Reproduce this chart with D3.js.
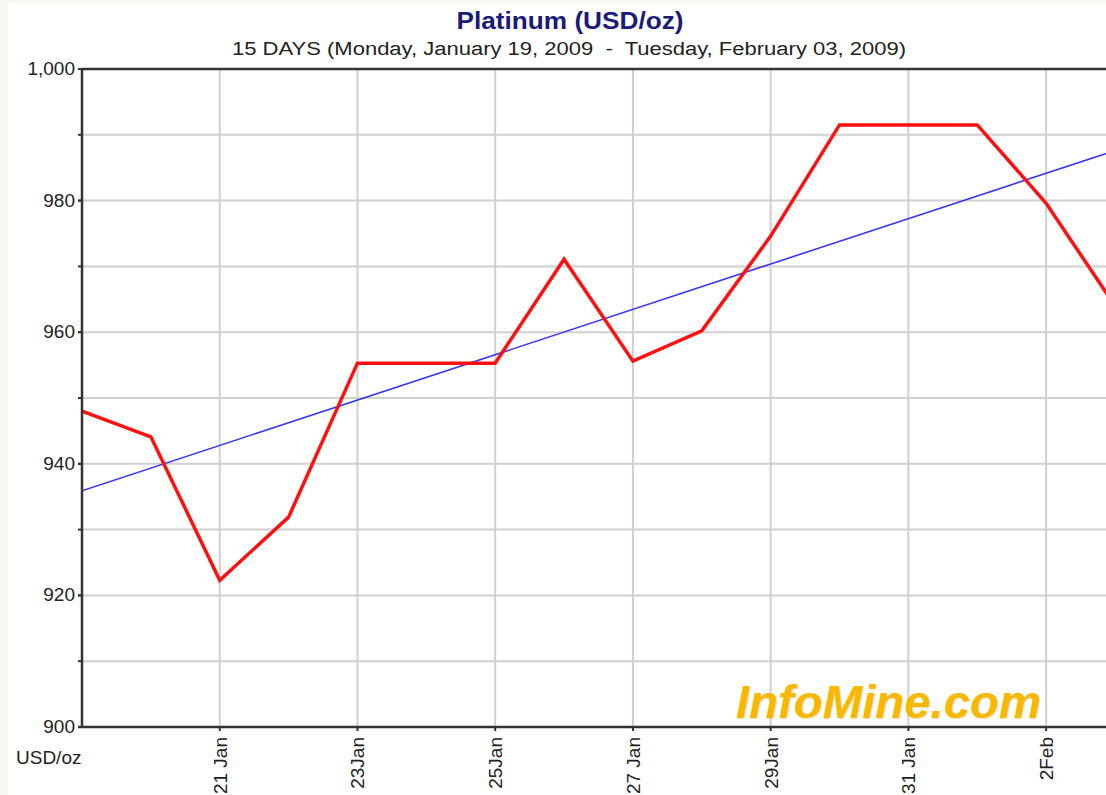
<!DOCTYPE html>
<html>
<head>
<meta charset="utf-8">
<script src="https://cdn.jsdelivr.net/npm/d3@7"></script>
<style>
  body { margin: 0; background: #faf6f2; }
  svg { display: block; }
</style>
</head>
<body>
<svg id="chart" width="1106" height="795"></svg>
<script>
// daily platinum price, Jan 19 .. Feb 3 2009
const dates = ["2009-01-19","2009-01-20","2009-01-21","2009-01-22","2009-01-23","2009-01-24","2009-01-25","2009-01-26",
               "2009-01-27","2009-01-28","2009-01-29","2009-01-30","2009-01-31","2009-02-01","2009-02-02","2009-02-03"]
const prices = [948.0, 944.1, 922.3, 931.9, 955.3, 955.3, 955.3, 971.1, 955.6, 960.2, 974.6, 991.5, 991.5, 991.5, 979.6, 964.0]

// trend line end points
const trendDates = ["2009-01-19", "2009-02-03"]
const trendValues = [935.9, 987.6]

const yTicks = [900, 920, 940, 960, 980, 1000]
const yGrid = [910, 920, 930, 940, 950, 960, 970, 980, 990]
const xTickDates = ["2009-01-21","2009-01-23","2009-01-25","2009-01-27","2009-01-29","2009-01-31","2009-02-02"]
const xTickLabels = ["21 Jan", "23Jan", "25Jan", "27 Jan", "29Jan", "31 Jan", "2Feb"]

const parse = d3.timeParse("%Y-%m-%d")
const svg = d3.select("#chart")

const plotL = 82, plotT = 69, plotB = 727, plotR = 1115

const x = d3.scaleTime()
    .domain([parse(dates[0]), parse(dates[dates.length - 1])])
    .range([plotL, plotR])
const y = d3.scaleLinear().domain([900, 1000]).range([plotB, plotT])

// page background, white panel
svg.append("rect").attr("x", 8).attr("y", 3).attr("width", 1098).attr("height", 792).attr("fill", "#fff")

// titles
svg.append("text")
    .attr("x", 570).attr("y", 29)
    .attr("text-anchor", "middle")
    .attr("font-family", "Liberation Sans, Arial, sans-serif")
    .attr("font-weight", "bold")
    .attr("font-size", 24)
    .attr("fill", "#1a1a7a")
    .attr("textLength", 227).attr("lengthAdjust", "spacingAndGlyphs")
    .text("Platinum (USD/oz)")

svg.append("text")
    .attr("x", 569).attr("y", 55)
    .attr("text-anchor", "middle")
    .attr("font-family", "Liberation Sans, Arial, sans-serif")
    .attr("font-size", 18)
    .attr("fill", "#222")
    .style("white-space", "pre")
    .attr("textLength", 674).attr("lengthAdjust", "spacingAndGlyphs")
    .text("15 DAYS (Monday, January 19, 2009  -  Tuesday, February 03, 2009)")

svg.append("clipPath").attr("id", "plotclip")
  .append("rect").attr("x", plotL).attr("y", plotT - 2).attr("width", 1106 - plotL).attr("height", plotB - plotT + 4)

const plot = svg.append("g").attr("clip-path", "url(#plotclip)")

// grid
plot.selectAll(".hgrid").data(yGrid).join("line")
    .attr("x1", plotL).attr("x2", 1106)
    .attr("y1", d => y(d)).attr("y2", d => y(d))
    .attr("stroke", "#d0d0d0").attr("stroke-width", 2)

plot.selectAll(".vgrid").data(xTickDates).join("line")
    .attr("x1", d => x(parse(d))).attr("x2", d => x(parse(d)))
    .attr("y1", plotT).attr("y2", plotB)
    .attr("stroke", "#d0d0d0").attr("stroke-width", 2)

// watermark
const wm = svg.append("g")
wm.append("text")
    .attr("x", 737).attr("y", 719)
    .attr("font-family", "Liberation Sans, Arial, sans-serif")
    .attr("font-weight", "bold").attr("font-style", "italic")
    .attr("font-size", 47)
    .attr("fill", "#c99400").attr("opacity", 0.25)
    .attr("textLength", 305).attr("lengthAdjust", "spacingAndGlyphs")
    .text("InfoMine.com")
wm.append("text")
    .attr("x", 736).attr("y", 718)
    .attr("font-family", "Liberation Sans, Arial, sans-serif")
    .attr("font-weight", "bold").attr("font-style", "italic")
    .attr("font-size", 47)
    .attr("fill", "#f8b800")
    .attr("textLength", 305).attr("lengthAdjust", "spacingAndGlyphs")
    .text("InfoMine.com")

// trend
const line = d3.line().x(d => x(d[0])).y(d => y(d[1]))
plot.append("path")
    .datum(trendDates.map((d, i) => [parse(d), trendValues[i]]))
    .attr("d", line)
    .attr("fill", "none").attr("stroke", "#3a3af0").attr("stroke-width", 1.6)

// price
plot.append("path")
    .datum(dates.map((d, i) => [parse(d), prices[i]]))
    .attr("d", line)
    .attr("fill", "none").attr("stroke", "#ff1010").attr("stroke-width", 3.5)
    .attr("stroke-linejoin", "miter")

// axes frame
svg.append("line").attr("x1", plotL).attr("x2", 1106).attr("y1", plotT).attr("y2", plotT)
    .attr("stroke", "#333").attr("stroke-width", 2.5)
svg.append("line").attr("x1", plotL).attr("x2", plotL).attr("y1", plotT).attr("y2", plotB)
    .attr("stroke", "#333").attr("stroke-width", 2.5)
svg.append("line").attr("x1", plotL - 4).attr("x2", 1106).attr("y1", plotB).attr("y2", plotB)
    .attr("stroke", "#333").attr("stroke-width", 2.5)

// y ticks
const yAxis = svg.append("g")
yAxis.selectAll("line").data(yTicks.concat(yGrid)).join("line")
    .attr("x1", plotL - 4).attr("x2", plotL)
    .attr("y1", d => y(d)).attr("y2", d => y(d))
    .attr("stroke", "#333").attr("stroke-width", 2)
yAxis.selectAll("text").data(yTicks).join("text")
    .attr("x", 75).attr("y", d => y(d) + 6)
    .attr("text-anchor", "end")
    .attr("font-family", "Liberation Sans, Arial, sans-serif")
    .attr("font-size", 19)
    .attr("fill", "#222")
    .text(d => d3.format(",")(d))

svg.append("text")
    .attr("x", 16).attr("y", 764)
    .attr("font-family", "Liberation Sans, Arial, sans-serif")
    .attr("font-size", 19)
    .attr("fill", "#222")
    .text("USD/oz")

// x ticks
const xAxis = svg.append("g")
xAxis.selectAll("line").data(xTickDates).join("line")
    .attr("x1", d => x(parse(d))).attr("x2", d => x(parse(d)))
    .attr("y1", plotB).attr("y2", plotB + 4)
    .attr("stroke", "#333").attr("stroke-width", 2)
xAxis.selectAll("text").data(xTickDates).join("text")
    .attr("transform", d => `translate(${x(parse(d)) + 7},${plotB + 10}) rotate(-90)`)
    .attr("text-anchor", "end")
    .attr("font-family", "Liberation Sans, Arial, sans-serif")
    .attr("font-size", 19)
    .attr("fill", "#222")
    .text((d, i) => xTickLabels[i])
</script>
</body>
</html>
